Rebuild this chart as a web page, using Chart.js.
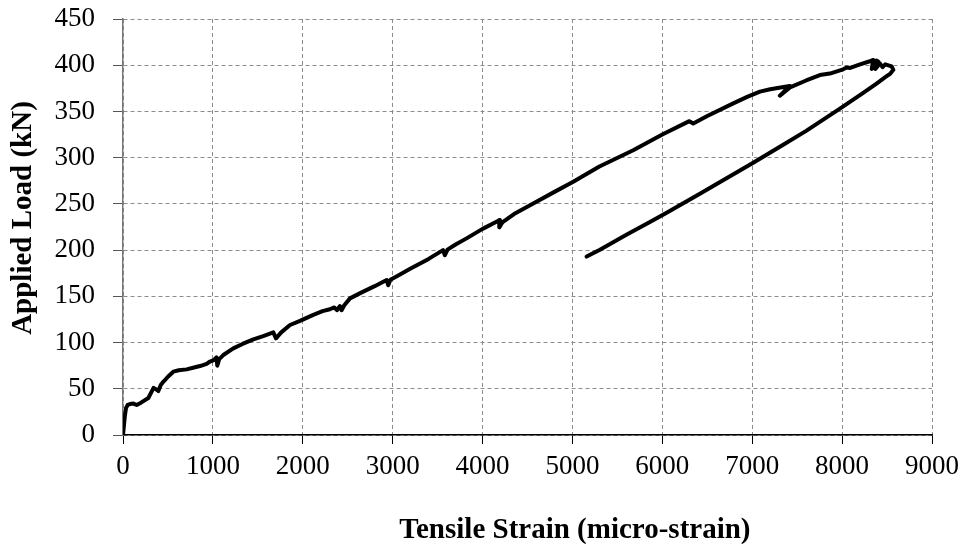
<!DOCTYPE html>
<html lang="en">
<head>
    <meta charset="UTF-8">
    <title>Applied Load vs Tensile Strain</title>
    <script src="https://cdn.jsdelivr.net/npm/chart.js"></script>
    <style>
        body {
            margin: 0;
            padding: 0;
            background-color: #fff;
        }

        canvas {
            display: block;
        }
    </style>
</head>
<body>
    <canvas id="load-chart" width="963" height="551"></canvas>

    <script>
        // strain (micro-strain) and load (kN)
        const loadingStrain = [0, 20, 33, 52, 78, 115, 152, 200, 282, 340, 375, 393, 420, 448, 500, 560, 620, 708, 790, 857,
            930, 968, 1010, 1040, 1049, 1070, 1116, 1227, 1330, 1450, 1560, 1672, 1702, 1760, 1858, 1969, 2117, 2220, 2302, 2350,
            2380, 2414, 2432, 2460, 2525, 2650, 2800, 2933, 2950, 2975, 3042, 3200, 3400, 3560, 3581, 3610, 3700, 3822, 4000, 4193,
            4186, 4220, 4350, 4564, 4800, 5009, 5300, 5676, 6000, 6300, 6344, 6500, 6789, 6950, 7086, 7200, 7383, 7420, 7308, 7420,
            7600, 7753, 7864, 8012, 8050, 8090, 8200, 8300, 8346, 8330, 8380, 8402, 8370, 8420, 8450, 8480, 8550, 8570];
        const loadingLoad = [0, 20, 29, 32.5, 33.5, 34, 32.5, 35, 40, 51, 49, 47.5, 54, 57.5, 63, 68.5, 70, 71, 73, 74.6,
            77, 79.5, 81, 84, 75, 82, 86.5, 93.7, 98.5, 103.4, 107, 111, 104.6, 111, 119, 123.5, 130, 134, 136, 138,
            135, 139.5, 135, 140, 147.8, 154, 161, 167.7, 162, 168, 171.5, 180, 190.5, 200, 194.5, 200.5, 206, 212.7, 223, 232.6,
            224.6, 230, 239, 250.5, 263, 274, 290.5, 308, 325, 339.5, 337, 345, 358.7, 366, 371.4, 374, 377, 377.5, 367, 376,
            383.5, 389.4, 391, 395.6, 397.5, 397, 401, 404, 405.7, 396, 405, 404, 396, 402, 398, 401, 398.7, 395];

        const unloadingStrain = [8537, 8480, 8383, 8235, 7976, 7828, 7600, 7345, 7011, 6700, 6418, 6048, 5862, 5600, 5306, 5158];
        const unloadingLoad = [391, 387, 380, 370, 353, 343.5, 329, 314, 294.5, 277, 261, 240.5, 230.5, 216.5, 200.5, 193];

        const strainTicks = [0, 1000, 2000, 3000, 4000, 5000, 6000, 7000, 8000, 9000];
        const loadTicks = [0, 50, 100, 150, 200, 250, 300, 350, 400, 450];

        const xTitle = 'Tensile Strain (micro-strain)';
        const yTitle = 'Applied Load (kN)';

        const serif = "'Liberation Serif', 'Times New Roman', serif";

        // one continuous trace: loading then unloading
        const points = loadingStrain.map((x, i) => ({ x: x, y: loadingLoad[i] }))
            .concat(unloadingStrain.map((x, i) => ({ x: x, y: unloadingLoad[i] })));

        // axis titles are not centred on the plot in the original, so draw them here
        const titlePlugin = {
            id: 'axisTitles',
            afterDraw(chart) {
                const ctx = chart.ctx;
                ctx.save();
                ctx.font = "bold 29px " + serif;
                ctx.fillStyle = '#000';
                ctx.textAlign = 'center';
                ctx.textBaseline = 'middle';
                ctx.fillText(xTitle, chart.width * 0.597, 531);
                ctx.translate(24, 218);
                ctx.rotate(-Math.PI / 2);
                ctx.fillText(yTitle, 0, 0);
                ctx.restore();
            }
        };

        new Chart(document.getElementById('load-chart'), {
            type: 'scatter',
            data: {
                datasets: [{
                    data: points,
                    showLine: true,
                    borderColor: '#000',
                    borderWidth: 4,
                    pointRadius: 0,
                    tension: 0,
                    borderJoinStyle: 'round',
                    borderCapStyle: 'round'
                }]
            },
            options: {
                responsive: false,
                animation: false,
                layout: {
                    autoPadding: false,
                    padding: { top: 19, right: 31, bottom: 0, left: 0 }
                },
                plugins: {
                    legend: { display: false },
                    tooltip: { enabled: false }
                },
                scales: {
                    x: {
                        type: 'linear',
                        min: 0,
                        max: 9000,
                        afterBuildTicks: (scale) => { scale.ticks = strainTicks.map(v => ({ value: v })); },
                        afterFit: (scale) => {
                            scale.height = 116;
                            scale.paddingLeft = 0;
                            scale.paddingRight = 0;
                        },
                        ticks: {
                            font: { family: serif, size: 27 },
                            color: '#000',
                            padding: 7,
                            maxRotation: 0,
                            autoSkip: false,
                            callback: (v) => String(v)
                        },
                        grid: {
                            color: '#8c8c8c',
                            lineWidth: 1,
                            tickLength: 9,
                            tickColor: '#000'
                        },
                        border: {
                            color: '#000',
                            width: 1.5,
                            dash: [4, 3]
                        }
                    },
                    y: {
                        type: 'linear',
                        min: 0,
                        max: 450,
                        afterBuildTicks: (scale) => { scale.ticks = loadTicks.map(v => ({ value: v })); },
                        afterFit: (scale) => {
                            scale.width = 123;
                            scale.paddingTop = 0;
                            scale.paddingBottom = 0;
                        },
                        ticks: {
                            font: { family: serif, size: 27 },
                            color: '#000',
                            padding: 18,
                            autoSkip: false,
                            callback: (v) => String(v)
                        },
                        grid: {
                            color: '#8c8c8c',
                            lineWidth: 1,
                            tickLength: 10,
                            tickColor: '#555'
                        },
                        border: {
                            color: '#777',
                            width: 1.5,
                            dash: [4, 3]
                        }
                    }
                }
            },
            plugins: [titlePlugin]
        });
    </script>
</body>
</html>
